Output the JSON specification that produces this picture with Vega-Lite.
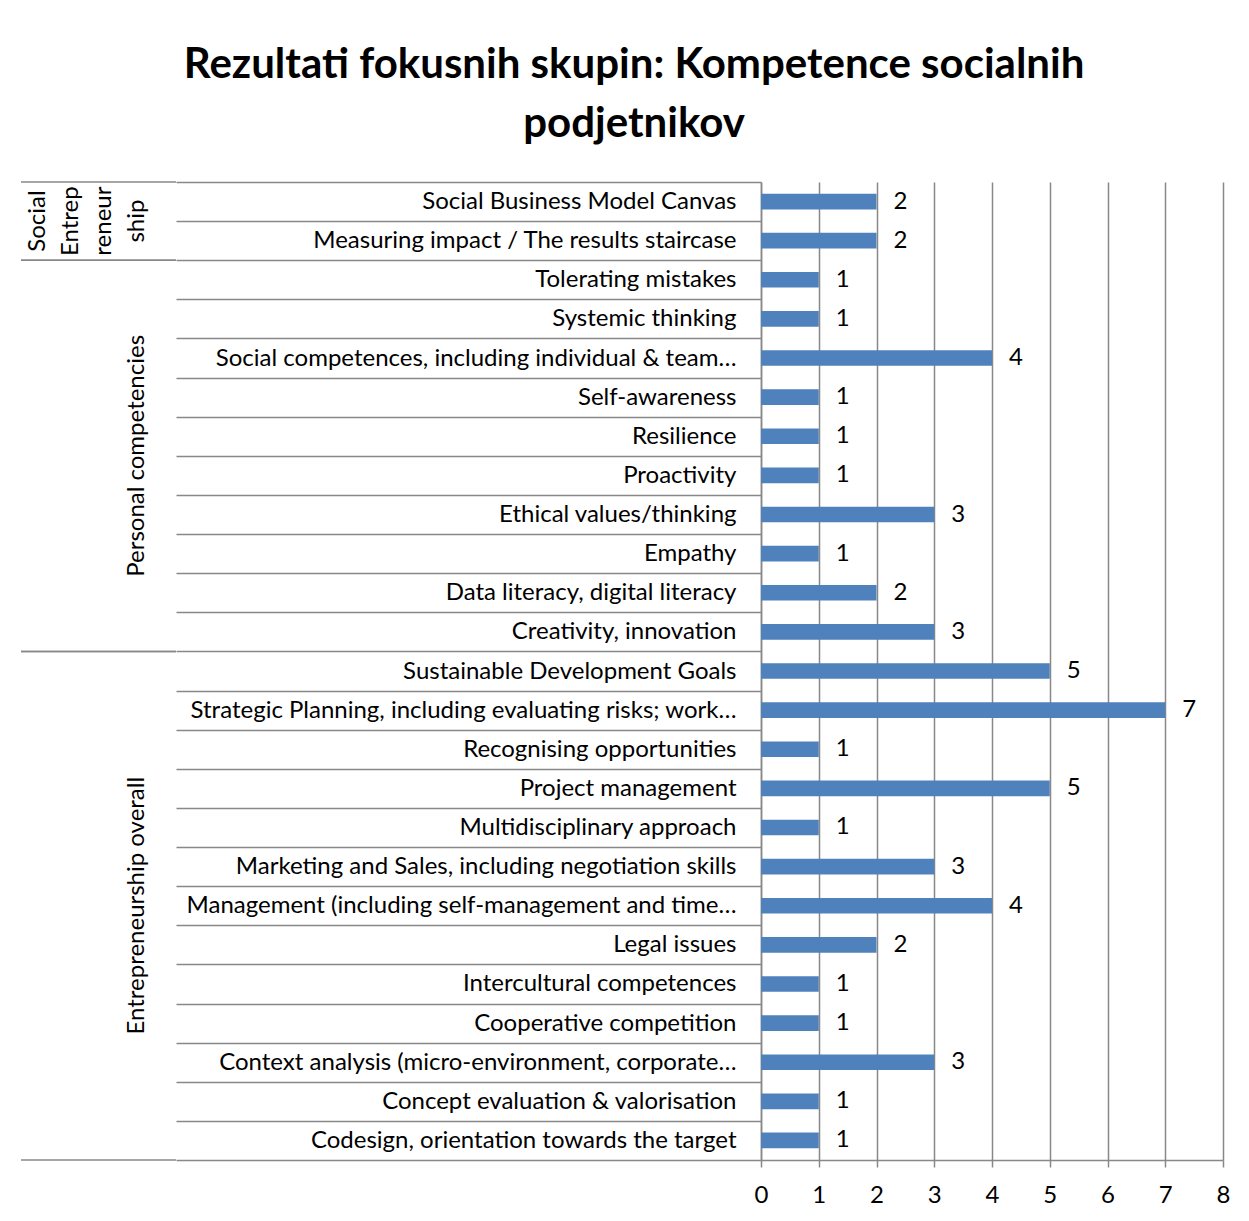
{
  "$schema": "https://vega.github.io/schema/vega-lite/v6.json",
  "padding": {"left": 20, "top": 44, "right": 10, "bottom": 5},
  "background": "white",
  "title": {
    "text": ["Rezultati fokusnih skupin: Kompetence socialnih", "podjetnikov"],
    "font": "Lato",
    "fontSize": 42,
    "fontWeight": "bold",
    "color": "black",
    "lineHeight": 59,
    "anchor": "middle",
    "dx": 9,
    "offset": 24
  },
  "datasets": {
    "items": [
      {"group": "Social Entrepreneurship", "item": "Social Business Model Canvas", "value": 2},
      {"group": "Social Entrepreneurship", "item": "Measuring impact / The results staircase", "value": 2},
      {"group": "Personal competencies", "item": "Tolerating mistakes", "value": 1},
      {"group": "Personal competencies", "item": "Systemic thinking", "value": 1},
      {"group": "Personal competencies", "item": "Social competences, including individual & team…", "value": 4},
      {"group": "Personal competencies", "item": "Self-awareness", "value": 1},
      {"group": "Personal competencies", "item": "Resilience", "value": 1},
      {"group": "Personal competencies", "item": "Proactivity", "value": 1},
      {"group": "Personal competencies", "item": "Ethical values/thinking", "value": 3},
      {"group": "Personal competencies", "item": "Empathy", "value": 1},
      {"group": "Personal competencies", "item": "Data literacy, digital literacy", "value": 2},
      {"group": "Personal competencies", "item": "Creativity, innovation", "value": 3},
      {"group": "Entrepreneurship overall", "item": "Sustainable Development Goals", "value": 5},
      {"group": "Entrepreneurship overall", "item": "Strategic Planning, including evaluating risks; work…", "value": 7},
      {"group": "Entrepreneurship overall", "item": "Recognising opportunities", "value": 1},
      {"group": "Entrepreneurship overall", "item": "Project management", "value": 5},
      {"group": "Entrepreneurship overall", "item": "Multidisciplinary approach", "value": 1},
      {"group": "Entrepreneurship overall", "item": "Marketing and Sales, including negotiation skills", "value": 3},
      {"group": "Entrepreneurship overall", "item": "Management (including self-management and time…", "value": 4},
      {"group": "Entrepreneurship overall", "item": "Legal issues", "value": 2},
      {"group": "Entrepreneurship overall", "item": "Intercultural competences", "value": 1},
      {"group": "Entrepreneurship overall", "item": "Cooperative competition", "value": 1},
      {"group": "Entrepreneurship overall", "item": "Context analysis (micro-environment, corporate…", "value": 3},
      {"group": "Entrepreneurship overall", "item": "Concept evaluation & valorisation", "value": 1},
      {"group": "Entrepreneurship overall", "item": "Codesign, orientation towards the target", "value": 1}
    ],
    "groups": [
      {"group": "Social Entrepreneurship", "label": "Social\nEntrep\nreneur\nship", "first": "Social Business Model Canvas", "last": "Measuring impact / The results staircase", "anchor": "Measuring impact / The results staircase"},
      {"group": "Personal competencies", "label": "Personal competencies", "first": "Tolerating mistakes", "last": "Creativity, innovation", "anchor": "Proactivity"},
      {"group": "Entrepreneurship overall", "label": "Entrepreneurship overall", "first": "Sustainable Development Goals", "last": "Codesign, orientation towards the target", "anchor": "Management (including self-management and time…"}
    ]
  },
  "spacing": 585,
  "bounds": "flush",
  "resolve": {"scale": {"y": "shared"}},
  "hconcat": [
    {
      "width": 155,
      "height": 978,
      "data": {"name": "groups"},
      "layer": [
        {
          "mark": {"type": "rule", "color": "#888888", "strokeWidth": 1.5},
          "encoding": {
            "y": {
              "field": "first",
              "type": "nominal",
              "bandPosition": 0,
              "axis": null,
              "scale": {
                "domain": [
                  "Social Business Model Canvas",
                  "Measuring impact / The results staircase",
                  "Tolerating mistakes",
                  "Systemic thinking",
                  "Social competences, including individual & team…",
                  "Self-awareness",
                  "Resilience",
                  "Proactivity",
                  "Ethical values/thinking",
                  "Empathy",
                  "Data literacy, digital literacy",
                  "Creativity, innovation",
                  "Sustainable Development Goals",
                  "Strategic Planning, including evaluating risks; work…",
                  "Recognising opportunities",
                  "Project management",
                  "Multidisciplinary approach",
                  "Marketing and Sales, including negotiation skills",
                  "Management (including self-management and time…",
                  "Legal issues",
                  "Intercultural competences",
                  "Cooperative competition",
                  "Context analysis (micro-environment, corporate…",
                  "Concept evaluation & valorisation",
                  "Codesign, orientation towards the target"
                ],
                "paddingInner": 0,
                "paddingOuter": 0
              }
            }
          }
        },
        {
          "mark": {"type": "rule", "color": "#888888", "strokeWidth": 1.5},
          "encoding": {
            "y": {"field": "last", "type": "nominal", "bandPosition": 1, "axis": null}
          }
        },
        {
          "transform": [{"filter": "datum.group == 'Social Entrepreneurship'"}],
          "mark": {"type": "text", "angle": 270, "align": "center", "baseline": "bottom", "lineBreak": "\n", "font": "Lato", "fontSize": 24, "lineHeight": 33, "color": "black", "dy": -126},
          "encoding": {
            "x": {"value": "width"},
            "y": {"field": "anchor", "type": "nominal", "bandPosition": 0, "axis": null},
            "text": {"field": "label"}
          }
        },
        {
          "transform": [{"filter": "datum.group == 'Personal competencies'"}],
          "mark": {"type": "text", "angle": 270, "align": "center", "baseline": "bottom", "font": "Lato", "fontSize": 24, "color": "black", "dy": -27},
          "encoding": {
            "x": {"value": "width"},
            "y": {"field": "anchor", "type": "nominal", "bandPosition": 0, "axis": null},
            "text": {"field": "label"}
          }
        },
        {
          "transform": [{"filter": "datum.group == 'Entrepreneurship overall'"}],
          "mark": {"type": "text", "angle": 270, "align": "center", "baseline": "bottom", "font": "Lato", "fontSize": 24, "color": "black", "dy": -27},
          "encoding": {
            "x": {"value": "width"},
            "y": {"field": "anchor", "type": "nominal", "bandPosition": 0.5, "axis": null},
            "text": {"field": "label"}
          }
        }
      ]
    },
    {
      "width": 462,
      "height": 978,
      "data": {"name": "items"},
      "encoding": {
        "y": {
          "field": "item",
          "type": "nominal",
          "sort": null,
          "axis": {
            "title": null,
            "orient": "left",
            "tickBand": "extent",
            "tickSize": 585,
            "tickColor": "#888888",
            "tickWidth": 1.5,
            "domainColor": "#888888",
            "domainWidth": 1.5,
            "labelPadding": -560,
            "labelFont": "Lato",
            "labelFontSize": 24,
            "labelColor": "black",
            "labelLimit": 900,
            "grid": false
          }
        }
      },
      "layer": [
        {
          "mark": {"type": "bar", "color": "#4F81BD", "height": {"band": 0.4}},
          "encoding": {
            "x": {
              "field": "value",
              "type": "quantitative",
              "scale": {"domain": [0, 8], "nice": false},
              "axis": {
                "title": null,
                "values": [0, 1, 2, 3, 4, 5, 6, 7, 8],
                "format": "d",
                "grid": true,
                "gridColor": "#888888",
                "gridWidth": 1.5,
                "tickSize": 7,
                "tickColor": "#888888",
                "tickWidth": 1.5,
                "domainColor": "#888888",
                "domainWidth": 1.5,
                "labelPadding": 16,
                "labelFont": "Lato",
                "labelFontSize": 24,
                "labelColor": "black",
                "labelFlush": false
              }
            }
          }
        },
        {
          "mark": {"type": "text", "align": "left", "baseline": "middle", "dx": 17, "font": "Lato", "fontSize": 24, "color": "black"},
          "encoding": {
            "x": {"field": "value", "type": "quantitative"},
            "text": {"field": "value", "type": "quantitative"}
          }
        }
      ]
    }
  ],
  "config": {
    "view": {"stroke": null}
  }
}
